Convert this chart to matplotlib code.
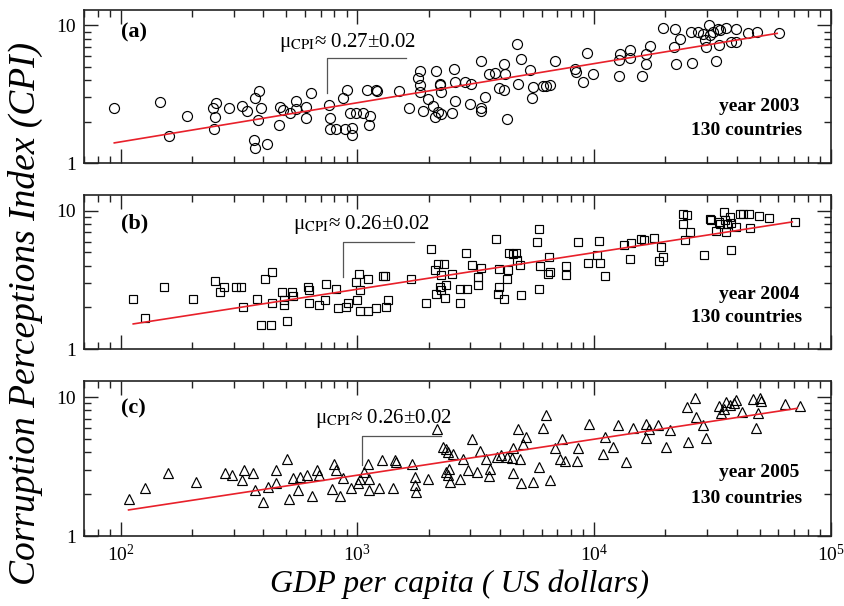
import matplotlib
matplotlib.use('Agg')
import matplotlib.pyplot as plt

plt.rcParams['font.family'] = 'serif'
plt.rcParams['font.serif'] = ['Liberation Serif', 'DejaVu Serif']
plt.rcParams['mathtext.fontset'] = 'stix'

# ---- data ----
gdp_2003 = [94, 146, 160, 191, 246, 254, 250, 248, 288, 324,
            342, 371, 385, 391, 381, 366, 369, 416, 470, 467,
            486, 518, 549, 553, 609, 609, 635, 755, 764, 769,
            810, 870, 885, 908, 934, 953, 953, 990, 1057, 1099,
            1127, 1120, 1202, 1213, 1500, 1652, 1832, 1803, 1832, 1845,
            1893, 1986, 2085, 2118, 2143, 2190, 2225, 2240, 2261, 2261,
            2517, 2548, 2574, 2574, 2838, 3000, 3030, 3338, 3338, 3338,
            3447, 3597, 3795, 3960,
            4170, 4200, 4160, 4266, 4700, 4776, 4889, 5354, 5495, 5440,
            6095, 6252, 6500, 6823, 8287, 8367, 8930, 9343, 9840, 12750,
            12830, 12750, 14140, 14140, 16000, 16520, 16520, 17290, 19550, 21880,
            21680, 22120, 22980, 25750, 25890, 27460, 28830, 29300, 29580, 30550,
            30970, 31780, 32820, 33350, 34120, 33680, 36150, 37950, 39600, 39880,
            44670, 48730, 60340]
cpi_2003 = [2.49, 2.78, 1.58, 2.19, 2.49, 2.71, 2.17, 1.78, 2.49, 2.59,
            2.38, 2.97, 3.34, 2.49, 2.07, 1.48, 1.28, 1.37, 2.56, 1.88,
            2.42, 2.29, 2.81, 2.45, 2.56, 2.11, 3.20, 2.63, 2.11, 1.78,
            1.78, 2.99, 1.78, 3.42, 2.29, 1.81, 1.60, 2.29, 2.29, 3.42,
            2.19, 1.88, 3.42, 3.34, 3.34, 2.53, 4.67, 4.18, 3.67, 3.29,
            2.38, 2.94, 2.59, 2.17, 4.67, 2.36, 3.67, 3.78, 3.29, 2.26,
            2.29, 4.85, 3.88, 2.83, 3.88, 2.68, 3.78, 5.52, 2.49, 2.38,
            3.02, 4.42, 4.54, 3.48,
            5.22, 4.42, 3.42, 2.08, 7.36, 3.78, 5.67, 4.72, 3.57, 2.99,
            3.61, 3.61, 3.67, 5.52, 4.85, 4.59, 3.88, 6.34, 4.46, 4.27,
            6.17, 5.64, 6.67, 5.83, 4.27, 6.17, 5.27, 7.08, 9.62, 9.46,
            6.97, 5.22, 8.0, 8.9, 5.33, 8.9, 8.7, 7.8, 6.97, 10.0,
            8.55, 8.95, 5.52, 9.46, 9.2, 7.16, 9.62, 7.57, 9.46, 7.57,
            8.8, 8.9, 8.8]

gdp_2004 = [113, 127, 153, 203, 250, 262, 274, 307, 321, 329,
            375, 391, 406, 430, 434, 434, 478, 489, 491, 502,
            530, 535, 619, 623, 625, 687, 728, 735, 810, 828,
            899, 914, 985, 1016, 1023, 1000, 1023, 1110, 1110, 1195,
            1283, 1304, 1317, 1347, 1679, 1955, 2052, 2118, 2153, 2188,
            2224, 2261, 2261, 2312, 2334, 2374, 2517, 2703, 2703, 2865,
            2902, 3056, 3228, 3228, 3336, 3836, 3927, 3964,
            3975, 4170, 4296, 4337, 4377, 4550, 4668, 4700, 4853, 4932,
            5713, 5862, 5862, 5896, 6356, 6457, 6500, 7641, 7641, 8505,
            9373, 10230, 10500, 10570, 11090, 13340, 14140, 14370, 15840, 16260,
            17850, 19240, 18800, 19550, 23750, 23750, 24680, 24140, 25330, 29030,
            30770, 31270, 32820, 33680, 34120, 35240, 35580, 36150, 37360, 37950,
            36530, 37950, 39880, 41180, 42540, 45080, 45380, 49670, 54700, 70260]
cpi_2004 = [2.29, 1.69, 2.79, 2.29, 3.12, 2.60, 2.79, 2.79, 2.79, 2.00,
            2.29, 1.49, 3.19, 1.49, 3.60, 2.16, 2.60, 2.26, 2.08, 1.59,
            2.60, 2.42, 2.79, 2.67, 2.16, 2.08, 2.26, 2.98, 2.70, 1.99,
            2.00, 2.14, 3.07, 3.47, 2.67, 2.26, 1.89, 1.89, 3.19, 1.99,
            3.37, 3.37, 2.00, 2.26, 3.19, 2.16, 5.28, 3.72, 2.50, 4.12,
            2.79, 2.67, 3.43, 4.12, 2.36, 2.90, 3.48, 2.16, 2.70, 4.97,
            2.70, 4.05, 2.90, 3.30, 3.89, 6.21, 2.50, 2.82,
            3.79, 2.29, 3.19, 3.72, 4.92, 4.86, 4.92, 4.40, 4.05, 2.48,
            5.97, 7.37, 2.70, 3.98, 3.48, 4.65, 3.62, 3.98, 3.43, 5.97,
            4.21, 4.78, 6.07, 4.21, 3.37, 5.71, 4.45, 5.87, 6.31, 6.14,
            6.38, 5.49, 4.33, 4.60, 9.57, 8.10, 9.31, 6.14, 7.05, 4.78,
            8.80, 8.56, 7.17, 8.32, 8.10, 9.84, 8.56, 7.05, 9.05, 8.19,
            8.10, 5.20, 7.66, 9.57, 9.57, 9.46, 7.58, 9.15, 8.90, 8.32]

gdp_2005 = [108, 127, 158, 208, 276, 294, 324, 331, 363, 369,
            400, 420, 452, 455, 505, 515, 535, 562, 571, 615,
            644, 678, 689, 782, 794, 815, 847, 870, 943, 1007,
            1023, 1064, 1110, 1120, 1120, 1234, 1274, 1413, 1437, 1461,
            1708, 1746, 1746, 1775, 1986, 2168, 2297, 2374, 2414, 2535,
            2374, 2414, 2453, 2438, 2703, 2794, 2932, 3056, 3197, 3282,
            3479, 3595, 3614, 3883,
            4025, 4266, 4478, 4521, 4550, 4776, 4853, 4932, 5013, 5148,
            5495, 5862, 6053, 6252, 6500, 6823, 7283, 7164, 7518, 8422,
            8560, 9526, 10910, 11090, 12030, 12630, 13680, 14520, 16520, 16630,
            17060, 18620, 20180, 20850, 24920, 24680, 26600, 27020, 28830, 29580,
            33680, 34440, 35250, 36150, 37360, 38850, 39600, 42250, 46880, 48420,
            49200, 50000, 50810, 63720, 73770]
cpi_2005 = [1.84, 2.22, 2.86, 2.45, 2.86, 2.77, 2.52, 2.98, 2.86, 2.14,
            1.75, 2.26, 2.98, 2.39, 3.61, 1.84, 2.62, 2.14, 2.67, 2.77,
            1.95, 2.98, 2.77, 2.17, 3.32, 2.98, 1.95, 2.62, 2.22, 2.39,
            2.59, 2.90, 3.32, 2.57, 2.14, 2.22, 3.51, 2.22, 3.51, 3.38,
            3.32, 2.67, 2.32, 2.06, 2.57, 5.86, 4.38, 4.21, 4.03, 3.92,
            2.90, 2.77, 2.45, 3.03, 2.59, 3.61, 2.98, 5.02, 2.90, 4.07,
            3.61, 2.70, 3.03, 3.71,
            3.81, 3.71, 3.65, 2.86, 4.30, 5.93, 3.61, 2.39, 4.62, 5.16,
            2.43, 3.15, 5.99, 7.38, 2.52, 4.30, 4.97, 3.57, 3.45, 3.45,
            4.30, 6.44, 3.86, 5.16, 4.38, 6.33, 3.41, 5.99, 6.44, 5.08,
            5.93, 6.33, 4.38, 5.76, 4.75, 8.48, 9.84, 7.18, 6.26, 5.08,
            8.62, 7.71, 8.25, 9.21, 8.81, 9.10, 9.46, 7.80, 9.62, 5.99,
            7.71, 9.84, 9.31, 8.96, 8.62]

# end points of the fitted power laws
fit_gdp_2003 = [94, 59300]
fit_cpi_2003 = [1.40, 8.75]
fit_gdp_2004 = [113, 68700]
fit_cpi_2004 = [1.52, 8.32]
fit_gdp_2005 = [108, 72100]
fit_cpi_2005 = [1.54, 8.29]

years = ['2003', '2004', '2005']
panel_tags = ['(a)', '(b)', '(c)']
mu_values = ['0.27', '0.26', '0.26']
mu_errors = ['0.02', '0.02', '0.02']
n_countries = [130, 130, 130]

panels = [
    dict(gdp=gdp_2003, cpi=cpi_2003, fx=fit_gdp_2003, fy=fit_cpi_2003,
         marker='o', ms=7.2, rect=[0.0995, 0.731, 0.885, 0.253],
         text_xy=(466, 7.53), bx=745, by=(3.22, 5.83), bx2=1600,
         tag_y=0.853, yr_y=0.371, nc_y=0.215),
    dict(gdp=gdp_2004, cpi=cpi_2004, fx=fit_gdp_2004, fy=fit_cpi_2004,
         marker='s', ms=6.4, rect=[0.0995, 0.424, 0.885, 0.254],
         text_xy=(533, 7.92), bx=869, by=(3.32, 5.99), bx2=1730,
         tag_y=0.818, yr_y=0.357, nc_y=0.208),
    dict(gdp=gdp_2005, cpi=cpi_2005, fx=fit_gdp_2005, fy=fit_cpi_2005,
         marker='^', ms=7.6, rect=[0.0995, 0.1155, 0.885, 0.2555],
         text_xy=(661, 7.06), bx=1050, by=(3.24, 5.27), bx2=2260,
         tag_y=0.826, yr_y=0.413, nc_y=0.245),
]

fig = plt.figure(figsize=(8.44, 6.06), dpi=100)

for i, p in enumerate(panels):
    ax = fig.add_axes(p['rect'])
    ax.plot(p['gdp'], p['cpi'], linestyle='none', marker=p['marker'],
            ms=p['ms'], mfc='none', mec='black', mew=0.85)
    ax.plot(p['fx'], p['fy'], color='#e8202a', lw=1.2)

    ax.set_xscale('log')
    ax.set_yscale('log')
    ax.set_xlim(70, 1e5)
    ax.set_ylim(1, 13)
    ax.set_yticks([1, 10])
    ax.set_yticklabels(['1', '10'])

    ax.tick_params(which='both', direction='in', top=True, right=True,
                   labelsize=14, width=1.0, color='#222222')
    ax.tick_params(which='major', length=10, pad=6)
    ax.tick_params(which='minor', length=5)
    if i < 2:
        ax.tick_params(axis='x', which='both', labelbottom=False)
    for s in ax.spines.values():
        s.set_linewidth(1.2)
        s.set_color('#222222')

    # fit exponent with its bracket
    label = 'μ$_{\\mathrm{CPI}}$≈ ' + mu_values[i] + '±' + mu_errors[i]
    ax.text(p['text_xy'][0], p['text_xy'][1], label, fontsize=15,
            va='center', ha='left')
    ax.plot([p['bx'], p['bx'], p['bx2']], [p['by'][0], p['by'][1], p['by'][1]],
            color='#555555', lw=0.9)

    ax.text(0.05, p['tag_y'], panel_tags[i], transform=ax.transAxes,
            fontsize=16, fontweight='bold', va='center', ha='left')
    ax.text(0.958, p['yr_y'], 'year ' + years[i], transform=ax.transAxes,
            fontsize=14, fontweight='bold', va='center', ha='right')
    ax.text(0.962, p['nc_y'], '%d countries' % n_countries[i], transform=ax.transAxes,
            fontsize=14, fontweight='bold', va='center', ha='right')

fig.text(0.03, 0.482, 'Corruption Perceptions Index (CPI)', rotation=90,
         fontsize=27, style='italic', va='center', ha='center')
fig.text(0.545, 0.036, 'GDP per capita ( US dollars)', fontsize=23,
         style='italic', va='center', ha='center')

fig.savefig('out.png', dpi=100)
